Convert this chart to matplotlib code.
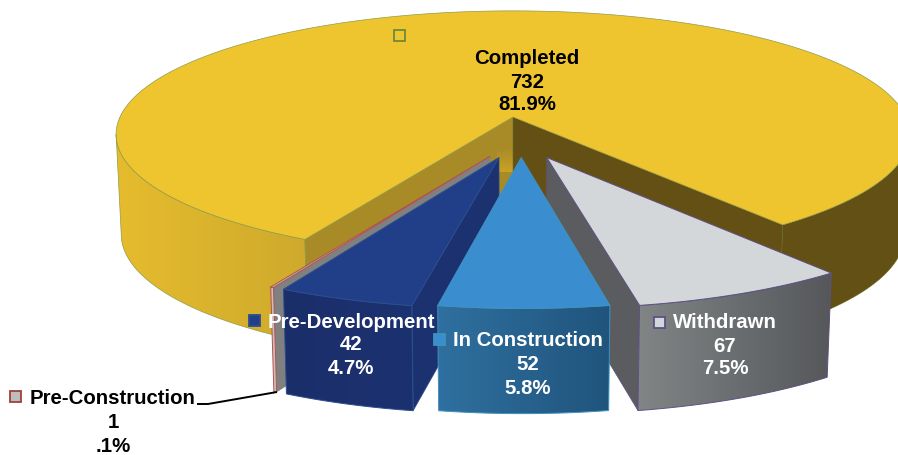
import numpy as np
import matplotlib
matplotlib.use("Agg")
import matplotlib.pyplot as plt
from matplotlib.colors import to_rgb
from matplotlib.patches import Polygon, Rectangle

plt.rcParams['font.family'] = ['Liberation Sans', 'DejaVu Sans']

# ---- data ----
categories = ['Withdrawn', 'In Construction', 'Pre-Development', 'Pre-Construction', 'Completed']
counts = [67, 52, 42, 1, 732]
percents = ['7.5%', '5.8%', '4.7%', '.1%', '81.9%']

# ---- projection of the tilted pie ----
CX, CY = 513.0, 117.0
RX, RY = 393.0, 121.0
PERSP = 0.14
DEPTH = 99.5
START = 142.4


def top(u, v):
    u, v = np.asarray(u, float), np.asarray(v, float)
    p = 1 + PERSP * v
    return np.column_stack([CX + RX * u / p, CY - RY * v / p])


def bottom(pts):
    pts = np.asarray(pts, float)
    return np.column_stack([CX + (pts[:, 0] - CX) * 0.987,
                            CY + (pts[:, 1] - CY) * 1.03 + DEPTH])


def rim(a0, a1, u0=0.0, v0=0.0, n=120, sx=1.0, sy=1.0):
    t = np.radians(np.linspace(a0, a1, n))
    return top(u0 + sx * np.sin(t), v0 + sy * np.cos(t))


fig = plt.figure(figsize=(8.98, 4.55), dpi=100)
ax = fig.add_axes([0, 0, 1, 1])
ax.set_xlim(0, 898)
ax.set_ylim(455, 0)
ax.set_autoscale_on(False)
ax.axis('off')

z = [1]


def nz():
    z[0] += 1
    return z[0]


def poly(pts, color, edge=None, lw=0.7):
    ax.add_patch(Polygon(pts, closed=True, facecolor=color,
                         edgecolor=edge if edge else color,
                         linewidth=lw if edge else 0.2, zorder=nz()))


def grad(pts, c0, c1, edge=None, lw=0.7, vertical=False, lim=None):
    pts = np.asarray(pts)
    x0, x1 = pts[:, 0].min(), pts[:, 0].max()
    y0, y1 = pts[:, 1].min(), pts[:, 1].max()
    a, b = lim if lim else ((y0, y1) if vertical else (x0, x1))
    t = np.linspace(0, 1, 256)[:, None]
    col = (1 - t) * np.array(to_rgb(c0)) + t * np.array(to_rgb(c1))
    img = col[:, None, :] if vertical else col[None, :, :].reshape(1, 256, 3)
    zz = nz()
    clip = Polygon(pts, closed=True, transform=ax.transData)
    im = ax.imshow(img, extent=[a, b, y1, y0] if not vertical else [x0, x1, b, a],
                   aspect='auto', zorder=zz, interpolation='bilinear')
    im.set_clip_path(clip)
    if edge:
        ax.add_patch(Polygon(pts, closed=True, fill=False, edgecolor=edge,
                             linewidth=lw, zorder=nz()))


# angular extent of every slice, clockwise from the back of the pie
sweep = np.array(counts) / sum(counts) * 360
ends = START + np.cumsum(sweep)
starts = ends - sweep
ang = dict(zip(categories, zip(starts, ends)))

# ---- Completed: walls first, then top face ----
a0, a1 = ang['Completed']
GOLD_EDGE = '#8E9C48'
center = np.array([[CX, CY]])
cb = bottom(center)
left_end = rim(a0, a0, n=1)
right_end = rim(a1, a1, n=1)

# outer walls, up to the silhouette of the disc
seg = rim(a0, 262)
grad(np.vstack([seg, bottom(seg)[::-1]]), '#CEAA2C', '#E6BC2E', edge=GOLD_EDGE, lw=0.5,
     lim=(307, 116))
seg = rim(a1 - 360, 90)
poly(np.vstack([seg, bottom(seg)[::-1]]), '#625014', edge='#6B6A20', lw=0.4)
# radial walls
wall_l = np.vstack([center, left_end, bottom(left_end), cb])
poly(wall_l, '#A88A26', edge=GOLD_EDGE, lw=0.5)
patch_pts = np.array([[CX - 16, CY + 35], [CX, CY + 30], [CX, cb[0, 1]], [CX - 16, cb[0, 1]]])
grad(patch_pts, '#A88A26', '#C8A327', vertical=True, lim=(CY + 30, CY + 55))
wall_r = np.vstack([center, right_end, bottom(right_end), cb])
poly(wall_r, '#645015', edge='#6B6A20', lw=0.4)
# top
poly(np.vstack([center, rim(a0, a1, n=400)]), '#EFC52F', edge=GOLD_EDGE, lw=0.5)

# ---- exploded slices ----
SLICE_SX, SLICE_SY = 0.99, 0.975
offsets = {
    'Withdrawn': (0.082, -0.32),
    'Pre-Construction': (-0.056, -0.31),
    'Pre-Development': (-0.034, -0.32),
    'In Construction': (0.020, -0.32),
}
styles = {
    'Withdrawn': dict(top='#D3D7DA', f0='#818586', f1='#55575A', side='#5B5C60', edge='#5F4F85', wall=1),
    'Pre-Construction': dict(top='#BDBDBD', f0='#C8C0BE', f1='#C8C0BE', side='#808080', edge='#B4504C', wall=0),
    'Pre-Development': dict(top='#213F88', f0='#1A2E6A', f1='#1C3270', side='#1C3270', edge='#2C4D8E', wall=0),
    'In Construction': dict(top='#3A8ED0', f0='#2F70A0', f1='#20547C', side='#20547C', edge='#3F93BE', wall=None),
}
for name in ['Withdrawn', 'Pre-Construction', 'Pre-Development', 'In Construction']:
    s = styles[name]
    u0, v0 = offsets[name]
    a0, a1 = ang[name]
    apex = top([u0], [v0])
    r = rim(a0, a1, u0, v0, n=60, sx=SLICE_SX, sy=SLICE_SY)
    rb = bottom(r)
    ab = bottom(apex)
    if s['wall'] is not None:
        e = r[[0]] if s['wall'] == 0 else r[[-1]]
        side_edge = s['edge'] if name != 'Pre-Construction' else None
        poly(np.vstack([apex, e, bottom(e), ab]), s['side'], edge=side_edge, lw=0.5)
    grad(np.vstack([r, rb[::-1]]), s['f0'], s['f1'], edge=s['edge'], lw=0.7)
    poly(np.vstack([apex, r]), s['top'], edge=s['edge'], lw=0.7)

# ---- leader line ----
leader_x = [197, 208, 277]
leader_y = [404, 404, 392]
ax.plot(leader_x, leader_y, color='black', lw=1.4, zorder=nz(), solid_capstyle='butt')

# ---- labels with legend keys ----
labels = {
    'Completed': dict(x=527, y=[58, 82, 105], c='black', key=(399, 35), kf='#EFC52F', ke='#6E8A3E'),
    'Pre-Development': dict(x=351, y=[322, 345, 368], c='white', key=(254, 320), kf='#213F88', ke='#2C4D8E'),
    'In Construction': dict(x=528, y=[341, 364, 388], c='white', key=(439, 339), kf='#3A8ED0', ke='#3F93BE'),
    'Withdrawn': dict(x=725, y=[323, 346, 369], c='white', key=(659, 322), kf='#D3D7DA', ke='#5F4F85'),
    'Pre-Construction': dict(x=113, y=[399, 422, 446], c='black', key=(15, 396), kf='#BDBDBD', ke='#A0403C'),
}
for name, cnt, pct in zip(categories, counts, percents):
    l = labels[name]
    k = l['key']
    ax.add_patch(Rectangle((k[0] - 5, k[1] - 5), 10.5, 10.5, facecolor=l['kf'], edgecolor=l['ke'],
                           linewidth=1.3, zorder=nz()))
    zt = nz()
    for yy, txt in zip(l['y'], [name, str(cnt), pct]):
        ax.text(l['x'], yy, txt, color=l['c'], fontsize=14.7, fontweight='bold',
                ha='center', va='center', zorder=zt)

fig.savefig('out.png', dpi=100)
